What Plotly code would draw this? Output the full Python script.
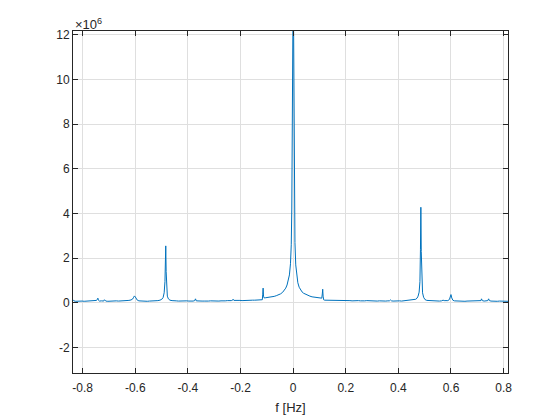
import plotly.graph_objects as go

# spectrum magnitude (magnitude in units of 1e6)
freq = [
    -0.8365, -0.833, -0.826, -0.818, -0.810, -0.802, -0.794, -0.786, -0.778, -0.770,
    -0.762, -0.754, -0.747, -0.744, -0.742, -0.740, -0.736, -0.728, -0.720, -0.717,
    -0.715, -0.712, -0.704, -0.696, -0.688, -0.680, -0.672, -0.664, -0.656, -0.648,
    -0.640, -0.632, -0.624, -0.616, -0.610, -0.606, -0.603, -0.600, -0.597, -0.592,
    -0.586, -0.578, -0.570, -0.562, -0.554, -0.546, -0.538, -0.530, -0.522, -0.514,
    -0.506, -0.499, -0.494, -0.490, -0.487, -0.4855, -0.484, -0.4825, -0.481, -0.478,
    -0.474, -0.468, -0.460, -0.452, -0.444, -0.436, -0.428, -0.420, -0.412, -0.404,
    -0.396, -0.388, -0.380, -0.374, -0.371, -0.368, -0.362, -0.354, -0.346, -0.338,
    -0.330, -0.322, -0.314, -0.306, -0.298, -0.290, -0.282, -0.274, -0.266, -0.258,
    -0.250, -0.242, -0.235, -0.230, -0.228, -0.225, -0.218, -0.210, -0.202, -0.194,
    -0.186, -0.178, -0.170, -0.162, -0.154, -0.146, -0.138, -0.130, -0.122, -0.117,
    -0.1155, -0.114, -0.1125, -0.110, -0.104, -0.096, -0.088, -0.080, -0.072, -0.064,
    -0.056, -0.048, -0.040, -0.034, -0.028, -0.023, -0.018, -0.014, -0.010, -0.007,
    -0.005, -0.003, -0.0015, 0.0, 0.0015, 0.003, 0.005, 0.007, 0.010, 0.014,
    0.018, 0.023, 0.028, 0.034, 0.040, 0.048, 0.056, 0.064, 0.072, 0.080,
    0.088, 0.096, 0.104, 0.109, 0.111, 0.1125, 0.114, 0.116, 0.120, 0.128,
    0.136, 0.144, 0.152, 0.160, 0.168, 0.176, 0.184, 0.192, 0.200, 0.208,
    0.216, 0.224, 0.232, 0.240, 0.248, 0.256, 0.264, 0.272, 0.280, 0.288,
    0.296, 0.304, 0.312, 0.320, 0.328, 0.336, 0.344, 0.352, 0.360, 0.366,
    0.370, 0.374, 0.380, 0.388, 0.396, 0.404, 0.412, 0.420, 0.428, 0.436,
    0.444, 0.452, 0.460, 0.466, 0.471, 0.475, 0.479, 0.482, 0.484, 0.4855,
    0.487, 0.489, 0.492, 0.496, 0.501, 0.508, 0.516, 0.524, 0.532, 0.540,
    0.548, 0.556, 0.564, 0.570, 0.574, 0.580, 0.588, 0.594, 0.597, 0.600,
    0.603, 0.607, 0.613, 0.621, 0.629, 0.637, 0.645, 0.653, 0.661, 0.669,
    0.677, 0.685, 0.693, 0.701, 0.709, 0.714, 0.716, 0.719, 0.726, 0.734,
    0.740, 0.743, 0.746, 0.752, 0.760, 0.768, 0.776, 0.784, 0.792, 0.800,
    0.808, 0.8167,
]
mag = [
    0.14, 0.09, 0.07, 0.08, 0.07, 0.08, 0.07, 0.08, 0.08, 0.07,
    0.08, 0.09, 0.11, 0.16, 0.21, 0.12, 0.08, 0.09, 0.08, 0.14,
    0.11, 0.08, 0.07, 0.08, 0.07, 0.08, 0.09, 0.08, 0.08, 0.09,
    0.09, 0.10, 0.11, 0.13, 0.17, 0.25, 0.31, 0.27, 0.19, 0.12,
    0.09, 0.08, 0.07, 0.08, 0.07, 0.08, 0.08, 0.09, 0.09, 0.10,
    0.12, 0.16, 0.24, 0.45, 0.95, 1.70, 2.55, 1.40, 0.60, 0.30,
    0.18, 0.12, 0.10, 0.11, 0.09, 0.08, 0.09, 0.08, 0.08, 0.09,
    0.08, 0.07, 0.08, 0.10, 0.18, 0.09, 0.08, 0.07, 0.08, 0.08,
    0.07, 0.08, 0.09, 0.08, 0.08, 0.09, 0.08, 0.09, 0.08, 0.09,
    0.10, 0.09, 0.10, 0.12, 0.16, 0.11, 0.10, 0.10, 0.11, 0.10,
    0.11, 0.11, 0.12, 0.11, 0.12, 0.12, 0.12, 0.13, 0.13, 0.14,
    0.36, 0.66, 0.30, 0.22, 0.23, 0.24, 0.25, 0.27, 0.29, 0.32,
    0.35, 0.40, 0.47, 0.55, 0.66, 0.80, 1.00, 1.25, 1.75, 2.60,
    4.20, 7.50, 14.0, 14.0, 13.0, 8.00, 4.40, 2.70, 1.70, 1.20,
    0.90, 0.70, 0.58, 0.49, 0.43, 0.38, 0.34, 0.30, 0.27, 0.25,
    0.23, 0.22, 0.21, 0.21, 0.40, 0.61, 0.30, 0.14, 0.12, 0.12,
    0.13, 0.12, 0.12, 0.11, 0.12, 0.11, 0.11, 0.10, 0.11, 0.10,
    0.10, 0.09, 0.10, 0.09, 0.10, 0.09, 0.08, 0.09, 0.10, 0.09,
    0.08, 0.09, 0.09, 0.08, 0.09, 0.08, 0.09, 0.08, 0.09, 0.09,
    0.13, 0.09, 0.08, 0.09, 0.08, 0.09, 0.08, 0.09, 0.09, 0.10,
    0.10, 0.11, 0.13, 0.16, 0.21, 0.30, 0.48, 0.95, 2.40, 4.28,
    2.30, 0.95, 0.45, 0.25, 0.15, 0.11, 0.10, 0.09, 0.09, 0.08,
    0.09, 0.08, 0.09, 0.12, 0.10, 0.09, 0.10, 0.15, 0.24, 0.37,
    0.22, 0.12, 0.09, 0.08, 0.08, 0.07, 0.08, 0.07, 0.08, 0.08,
    0.07, 0.08, 0.08, 0.07, 0.08, 0.10, 0.18, 0.10, 0.08, 0.08,
    0.10, 0.18, 0.10, 0.08, 0.07, 0.08, 0.07, 0.08, 0.07, 0.07,
    0.08, 0.07,
]

x_ticks = [-0.8, -0.6, -0.4, -0.2, 0, 0.2, 0.4, 0.6, 0.8]
x_labels = ["-0.8", "-0.6", "-0.4", "-0.2", "0", "0.2", "0.4", "0.6", "0.8"]
y_ticks = [-2, 0, 2, 4, 6, 8, 10, 12]
y_labels = ["-2", "0", "2", "4", "6", "8", "10", "12"]

axis_col = "#262626"
grid_col = "#dfdfdf"
font_name = "Liberation Sans, Arial"

fig = go.Figure(go.Scatter(x=freq, y=mag, mode="lines",
                           line=dict(color="#0072BD", width=1)))

common = dict(showline=True, linecolor=axis_col, linewidth=1, mirror="ticks",
              ticks="inside", ticklen=5, tickcolor=axis_col,
              showgrid=True, gridcolor=grid_col, gridwidth=1, zeroline=False,
              tickfont=dict(family=font_name, size=12, color=axis_col))

fig.update_xaxes(range=[-0.8365, 0.8167], tickvals=x_ticks, ticktext=x_labels,
                 ticklabelstandoff=4,
                 title=dict(text="f [Hz]", standoff=8,
                            font=dict(family=font_name, size=13, color=axis_col)),
                 **common)
fig.update_yaxes(range=[-3.14, 12.17], tickvals=y_ticks, ticktext=y_labels, **common)

# MATLAB-style exponent label above the y axis
fig.add_annotation(xref="paper", yref="paper", x=0, y=1, xanchor="left", yanchor="bottom",
                   text="×10<sup>6</sup>", showarrow=False, yshift=-3,
                   font=dict(family=font_name, size=13, color=axis_col))

# page body adds 8px offset, so margins are shifted to land the axes where the reference has them
fig.update_layout(width=560, height=420, margin=dict(l=65, r=60, t=23, b=55),
                  plot_bgcolor="white", paper_bgcolor="white", showlegend=False)

fig.write_html("out.html")
